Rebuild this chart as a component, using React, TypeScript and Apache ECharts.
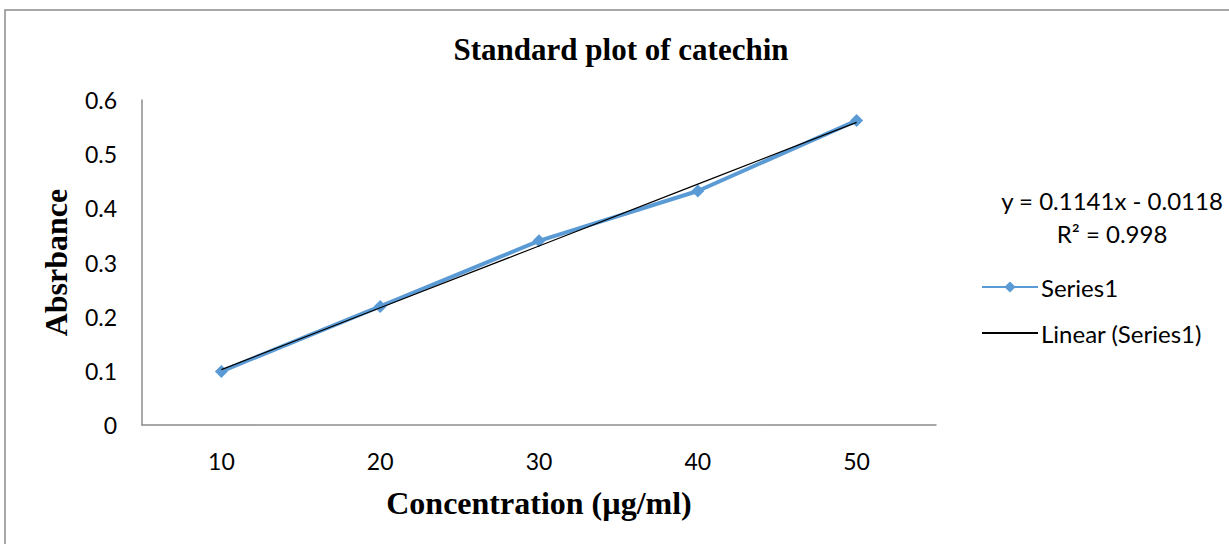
import React, { useEffect, useRef } from "react";
import * as echarts from "echarts";

const categories = ["10", "20", "30", "40", "50"];
const absorbance = [0.099, 0.219, 0.34, 0.432, 0.562];
const trendValues = [0.1023, 0.2164, 0.3305, 0.4446, 0.5587];
const yTicks = [0, 0.1, 0.2, 0.3, 0.4, 0.5, 0.6];
const equationText = "y = 0.1141x - 0.0118";
const r2Text = "R² = 0.998";

export default function App() {
  const ref = useRef<HTMLDivElement>(null);
  useEffect(() => {
    document.body.style.margin = "0";
    const chart = echarts.init(ref.current!, null, { renderer: "svg" });
    const serif = "'Liberation Serif', 'Times New Roman', serif";
    const sans = "Lato, 'Open Sans', sans-serif";
    chart.setOption({
      animation: false,
      backgroundColor: "#ffffff",
      title: {
        text: "Standard plot of catechin",
        left: 616,
        textAlign: "center",
        top: 29,
        textStyle: { fontFamily: serif, fontWeight: "bold", fontSize: 31, color: "#000" },
      },
      grid: { left: 142, right: 293, top: 100, bottom: 119 },
      xAxis: {
        type: "category",
        data: categories,
        boundaryGap: true,
        axisLine: { lineStyle: { color: "#8c8c8c", width: 1.5 } },
        axisTick: { show: false },
        axisLabel: { color: "#000", fontFamily: sans, fontSize: 23, margin: 24 },
        name: "Concentration (µg/ml)",
        nameLocation: "middle",
        nameGap: 62,
        nameTextStyle: { fontFamily: serif, fontWeight: "bold", fontSize: 32, color: "#000" },
      },
      yAxis: {
        type: "value",
        min: yTicks[0],
        max: yTicks[yTicks.length - 1],
        interval: 0.1,
        axisLine: { show: true, lineStyle: { color: "#8c8c8c", width: 1.5 } },
        axisTick: { show: false },
        splitLine: { show: false },
        axisLabel: { color: "#000", fontFamily: sans, fontSize: 23, margin: 25 },
        name: "Absrbance",
        nameLocation: "middle",
        nameGap: 70,
        nameRotate: 90,
        nameTextStyle: { fontFamily: serif, fontWeight: "bold", fontSize: 32, color: "#000" },
      },
      legend: {
        orient: "vertical",
        left: 976,
        top: 270,
        itemWidth: 56,
        itemHeight: 14,
        itemGap: 22,
        textStyle: { fontFamily: sans, fontSize: 24, color: "#000", padding: [0, 0, 0, -2] },
        data: [
          { name: "Series1" },
          { name: "Linear (Series1)", itemStyle: { opacity: 0 } },
        ],
      },
      series: [
        {
          name: "Series1",
          type: "line",
          data: absorbance,
          symbol: "diamond",
          symbolSize: 13,
          lineStyle: { color: "#5B9BD5", width: 4 },
          itemStyle: { color: "#5B9BD5" },
          z: 2,
        },
        {
          name: "Linear (Series1)",
          type: "line",
          data: trendValues,
          symbol: "none",
          lineStyle: { color: "#000", width: 1.2 },
          itemStyle: { color: "#000" },
          z: 3,
        },
      ],
      graphic: [
        {
          type: "rect",
          shape: { x: 5, y: 10, width: 1400, height: 700 },
          style: { fill: "none", stroke: "#8c8c8c", lineWidth: 1.5 },
          silent: true,
        },
        {
          type: "text",
          x: 1112,
          y: 200,
          style: { text: equationText, fontFamily: sans, fontSize: 24, fill: "#000", textAlign: "center", textVerticalAlign: "middle" },
        },
        {
          type: "text",
          x: 1112,
          y: 233,
          style: { text: r2Text, fontFamily: sans, fontSize: 24, fill: "#000", textAlign: "center", textVerticalAlign: "middle" },
        },
      ],
    });
    return () => chart.dispose();
  }, []);
  return <div ref={ref} style={{ width: 1229, height: 544 }} />;
}
